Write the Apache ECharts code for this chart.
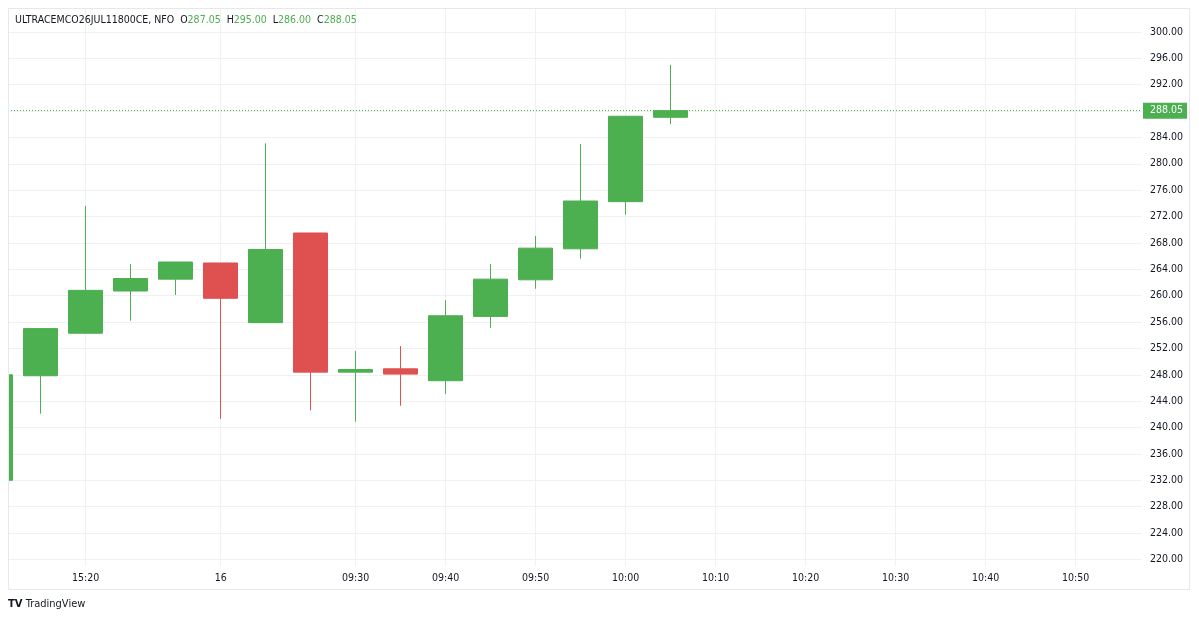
<!DOCTYPE html>
<html>
<head>
<meta charset="utf-8">
<title>ULTRACEMCO26JUL11800CE</title>
<script src="https://cdn.jsdelivr.net/npm/echarts@6/dist/echarts.min.js"></script>
<style>
  html, body { margin: 0; padding: 0; background: #fff; }
  #chart { width: 1199px; height: 620px; }
</style>
</head>
<body>
<div id="chart"></div>
<script>
// candle k is drawn at x = k (k = 0 is the one cut off at the left edge)
const opens  = [232.0, 247.85, 254.3, 260.7, 262.5, 264.95, 255.9, 269.5, 248.4, 248.9, 247.1, 256.85, 262.4, 267.1, 274.25, 287.05];
const closes = [248.0, 255.0, 260.8, 262.6, 265.1, 259.6, 267.0, 248.4, 248.8, 248.1, 256.95, 262.5, 267.2, 274.35, 287.2, 288.05];
const lows   = [232.0, 242.1, 254.3, 256.2, 260.1, 241.3, 255.9, 242.6, 240.9, 243.3, 245.1, 255.1, 261.05, 265.6, 272.3, 286.0];
const highs  = [248.0, 255.0, 273.6, 264.8, 265.1, 264.95, 283.1, 269.5, 251.6, 252.35, 259.3, 264.8, 269.05, 283.0, 287.2, 295.0];

const timeSlots  = [2, 5, 8, 10, 12, 14, 16, 18, 20, 22, 24];
const timeLabels = ['15:20', '16', '09:30', '09:40', '09:50', '10:00', '10:10', '10:20', '10:30', '10:40', '10:50'];

const priceTicks = [220, 224, 228, 232, 236, 240, 244, 248, 252, 256, 260, 264, 268, 272, 276, 280, 284, 288, 292, 296, 300];
const lastPrice = 288.05;

const UP = '#4caf50';
const DOWN = '#df5050';
const FONT = "'DejaVu Sans Condensed', 'DejaVu Sans', sans-serif";

const candles = opens.map((o, k) => [k, o, closes[k], lows[k], highs[k]]);

const chart = echarts.init(document.getElementById('chart'), null, {renderer: 'canvas'});

chart.setOption({
  animation: false,
  backgroundColor: '#ffffff',
  title: [{
    left: 10,
    top: 10,
    text: 'ULTRACEMCO26JUL11800CE, NFO  O{g|287.05}  H{g|295.00}  L{g|286.00}  C{g|288.05}',
    textStyle: {
      fontFamily: FONT, fontSize: 10.5, fontWeight: 'normal', color: '#131722',
      rich: {g: {fontFamily: FONT, fontSize: 10.5, color: UP}}
    }
  }, {
    left: 3,
    top: 594,
    text: '{logo|TV} TradingView',
    textStyle: {
      fontFamily: FONT, fontSize: 11, fontWeight: 'normal', color: '#131722',
      rich: {logo: {fontFamily: 'DejaVu Sans', fontSize: 10, fontWeight: 900, color: '#131722'}}
    }
  }],
  graphic: [{
    // white strip left of the plot frame (hides the cut-off candle part)
    type: 'rect',
    z: 100,
    shape: {x: 0, y: 0, width: 8, height: 620},
    style: {fill: '#ffffff'},
    silent: true
  }, {
    type: 'rect',
    z: 101,
    shape: {x: 8.5, y: 8.5, width: 1181, height: 581},
    style: {fill: 'none', stroke: '#e6e8ec', lineWidth: 1},
    silent: true
  }],
  grid: {left: 8, right: 57, top: 8, bottom: 54},
  xAxis: {
    type: 'value',
    min: 0.2733,
    max: 25.473,
    axisLine: {show: false},
    axisTick: {show: false, customValues: timeSlots},
    splitLine: {show: true, lineStyle: {color: '#f0f1f3', width: 1}},
    axisLabel: {
      customValues: timeSlots,
      margin: 7,
      color: '#131722',
      fontFamily: FONT,
      fontSize: 10.5,
      formatter: v => timeLabels[timeSlots.indexOf(Math.round(v))] || ''
    }
  },
  yAxis: {
    type: 'value',
    position: 'right',
    min: 219.0,
    max: 303.62,
    scale: true,
    axisLine: {show: false},
    axisTick: {show: false, customValues: priceTicks},
    splitLine: {show: true, lineStyle: {color: '#f0f1f3', width: 1}},
    axisLabel: {
      customValues: priceTicks.filter(v => v !== 288),
      margin: 8,
      color: '#131722',
      fontFamily: FONT,
      fontSize: 10.5,
      formatter: v => v.toFixed(2)
    }
  },
  series: [{
    type: 'candlestick',
    data: candles,
    encode: {x: 0, y: [1, 2, 3, 4]},
    barWidth: 35,
    clip: true,
    itemStyle: {
      color: UP,
      color0: DOWN,
      borderColor: UP,
      borderColor0: DOWN,
      borderWidth: 1
    },
    markLine: {
      silent: true,
      symbol: 'none',
      animation: false,
      lineStyle: {color: UP, type: [1, 2], width: 1},
      label: {
        show: true,
        position: 'end',
        distance: 1,
        formatter: lastPrice.toFixed(2),
        color: '#ffffff',
        backgroundColor: UP,
        padding: [3, 4, 2, 7],
        fontFamily: FONT,
        fontSize: 10.5
      },
      data: [{yAxis: lastPrice}]
    }
  }]
});
</script>
</body>
</html>
